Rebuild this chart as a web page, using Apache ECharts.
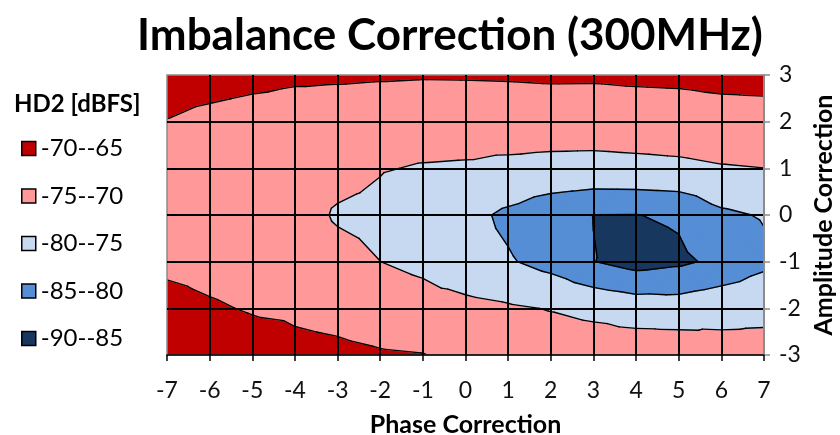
<!DOCTYPE html>
<html><head><meta charset="utf-8">
<script src="https://cdn.jsdelivr.net/npm/echarts/dist/echarts.min.js"></script>
<style>html,body{margin:0;padding:0;background:#fff}#c{width:840px;height:435px}</style>
</head><body><div id="c"></div>
<script>
// Phase correction (x) and amplitude correction (y) grid
const phase = [-7,-6,-5,-4,-3,-2,-1,0,1,2,3,4,5,6,7];
const amplitude = [3,2,1,0,-1,-2,-3];
// HD2 [dBFS] for each amplitude row, across phase -7..7
const hd2_amp_p3 = [-66.0,-66.5,-67.5,-68.7,-69.1,-69.4,-69.6,-69.55,-69.45,-69.2,-69.25,-68.9,-68.7,-68.0,-67.6];
const hd2_amp_p2 = [-70.26,-72.24,-73.6,-73.9,-73.6,-73.7,-73.6,-73.64,-73.4,-73.4,-73.4,-73.3,-73.2,-72.9,-72.9];
const hd2_amp_p1 = [-72.0,-73.0,-73.5,-73.8,-74.0,-74.85,-75.19,-75.3,-75.65,-75.9,-75.98,-75.8,-75.6,-75.21,-75.02];
const hd2_amp_0  = [-72.3,-73.0,-73.4,-73.67,-75.33,-75.68,-77.0,-78.5,-80.95,-83.49,-85.05,-85.09,-84.4,-80.85,-79.64];
const hd2_amp_m1 = [-71.6,-72.1,-72.8,-73.5,-74.0,-74.99,-76.0,-78.2,-79.55,-81.6,-84.9,-86.86,-85.86,-83.95,-81.08];
const hd2_amp_m2 = [-67.5,-69.3,-70.47,-70.8,-71.5,-72.5,-73.22,-73.69,-74.44,-75.2,-76.0,-77.06,-77.49,-76.35,-75.94];
const hd2_amp_m3 = [-65.0,-66.0,-67.1,-68.75,-69.0,-69.59,-69.87,-71.17,-72.0,-72.34,-72.55,-72.27,-72.08,-73.42,-73.65];
const hd2 = [hd2_amp_p3, hd2_amp_p2, hd2_amp_p1, hd2_amp_0, hd2_amp_m1, hd2_amp_m2, hd2_amp_m3];

const bandNames = ['-70--65','-75--70','-80--75','-85--80','-90--85'];
const bandLo = [-70,-75,-80,-85,-90];
const bandHi = [-65,-70,-75,-80,-85];
const bandColors = ['#C00000','#FF9999','#C6D9F1','#558ED5','#17375E'];
const contourLevels = [-70,-75,-80,-85];

const cells = [];
for (let r = 0; r < amplitude.length - 1; r++)
  for (let c = 0; c < phase.length - 1; c++)
    cells.push([phase[c], amplitude[r + 1], c, r]);

function triangles(c, r) {
  const P = [
    {x: phase[c], y: amplitude[r], v: hd2[r][c]},
    {x: phase[c+1], y: amplitude[r], v: hd2[r][c+1]},
    {x: phase[c+1], y: amplitude[r+1], v: hd2[r+1][c+1]},
    {x: phase[c], y: amplitude[r+1], v: hd2[r+1][c]}
  ];
  const M = {x: (P[0].x + P[1].x) / 2, y: (P[0].y + P[3].y) / 2,
             v: (P[0].v + P[1].v + P[2].v + P[3].v) / 4};
  return [[P[0],P[1],M],[P[1],P[2],M],[P[2],P[3],M],[P[3],P[0],M]];
}
function clip(poly, level, keepAbove) {
  const out = [];
  const inside = p => keepAbove ? p.v >= level : p.v <= level;
  for (let i = 0; i < poly.length; i++) {
    const A = poly[i], B = poly[(i + 1) % poly.length];
    const ia = inside(A), ib = inside(B);
    if (ia) out.push(A);
    if (ia !== ib) {
      const t = (level - A.v) / (B.v - A.v);
      out.push({x: A.x + t * (B.x - A.x), y: A.y + t * (B.y - A.y), v: level});
    }
  }
  return out;
}
function renderFill(params, api) {
  const c = api.value(2), r = api.value(3);
  const children = [];
  triangles(c, r).forEach(tri => {
    for (let b = 0; b < bandNames.length; b++) {
      let poly = tri;
      if (b !== 0) poly = clip(poly, bandHi[b], false);
      if (b !== bandNames.length - 1) poly = clip(poly, bandLo[b], true);
      if (poly.length >= 3) {
        children.push({type: 'polygon',
          shape: {points: poly.map(p => api.coord([p.x, p.y]))},
          style: {fill: bandColors[b], stroke: bandColors[b], lineWidth: 1.3, lineJoin: 'round'}});
      }
    }
  });
  return {type: 'group', children};
}
function renderLines(params, api) {
  const c = api.value(2), r = api.value(3);
  const children = [];
  triangles(c, r).forEach(tri => {
    contourLevels.forEach(L => {
      const pts = [];
      for (let i = 0; i < 3; i++) {
        const A = tri[i], B = tri[(i + 1) % 3];
        if ((A.v >= L) !== (B.v >= L)) {
          const t = (L - A.v) / (B.v - A.v);
          pts.push(api.coord([A.x + t * (B.x - A.x), A.y + t * (B.y - A.y)]));
        }
      }
      if (pts.length === 2) {
        children.push({type: 'line',
          shape: {x1: pts[0][0], y1: pts[0][1], x2: pts[1][0], y2: pts[1][1]},
          style: {stroke: '#000', lineWidth: 1.4, lineCap: 'round'}});
      }
    });
  });
  return {type: 'group', children};
}

const FONT = 'Lato';
const chart = echarts.init(document.getElementById('c'), null, {renderer: 'canvas'});
const legendSeries = bandNames.map((n, i) => ({
  name: n, type: 'scatter', data: [], itemStyle: {color: bandColors[i], opacity: 1}
}));
chart.setOption({
  animation: false,
  backgroundColor: '#fff',
  title: [
    {text: 'Imbalance Correction (300MHz)', left: 445, top: 9, textAlign: 'center',
     textStyle: {fontFamily: FONT, fontWeight: 'bold', fontSize: 44, color: '#000'}},
    {text: 'HD2 [dBFS]', left: 9, top: 87,
     textStyle: {fontFamily: FONT, fontWeight: 'bold', fontSize: 24, color: '#000'}}
  ],
  legend: {
    orient: 'vertical', left: 16, top: 131, itemGap: 22.5, itemWidth: 14, itemHeight: 14,
    icon: 'rect', selectedMode: false,
    data: bandNames,
    itemStyle: {borderColor: '#000', borderWidth: 1.5, opacity: 1},
    textStyle: {fontFamily: FONT, fontSize: 24, color: '#000', lineHeight: 25}
  },
  grid: {left: 167, right: 76, top: 75, bottom: 80, show: true, z: 10,
         containLabel: false, outerBoundsMode: 'none',
         borderColor: '#8c8c8c', borderWidth: 1.5, backgroundColor: 'transparent'},
  xAxis: {
    type: 'value', min: -7, max: 7, interval: 1, z: 10,
    name: 'Phase Correction', nameLocation: 'middle', nameGap: 57,
    nameTextStyle: {fontFamily: FONT, fontWeight: 'bold', fontSize: 25, color: '#000'},
    axisLine: {show: true, onZero: false, lineStyle: {color: '#000', width: 1.5}},
    axisTick: {show: true, length: 6, lineStyle: {color: '#000', width: 1.5}},
    axisLabel: {fontFamily: FONT, fontSize: 23, color: '#111', margin: 24,
                formatter: v => String(v)},
    splitLine: {show: true, showMinLine: false, showMaxLine: false,
                lineStyle: {color: '#000', width: 2}}
  },
  yAxis: {
    type: 'value', min: -3, max: 3, interval: 1, position: 'right', z: 10,
    name: 'Amplitude Correction', nameLocation: 'middle', nameGap: 43, nameRotate: 90,
    nameTextStyle: {fontFamily: FONT, fontWeight: 'bold', fontSize: 25, color: '#000'},
    axisLine: {show: true, onZero: false, lineStyle: {color: '#8c8c8c', width: 2}},
    axisTick: {show: true, length: 6, lineStyle: {color: '#8c8c8c', width: 1.5}},
    axisLabel: {fontFamily: FONT, fontSize: 23, color: '#111', margin: 15,
                formatter: v => String(v)},
    splitLine: {show: true, showMinLine: false, showMaxLine: false,
                lineStyle: {color: '#000', width: 2}}
  },
  series: [
    {type: 'custom', name: 'fill', data: cells, renderItem: renderFill, clip: true, z: 1,
     encode: {x: 0, y: 1}, silent: true},
    {type: 'custom', name: 'contour', data: cells, renderItem: renderLines, clip: true, z: 2,
     encode: {x: 0, y: 1}, silent: true}
  ].concat(legendSeries)
});
</script></body></html>
